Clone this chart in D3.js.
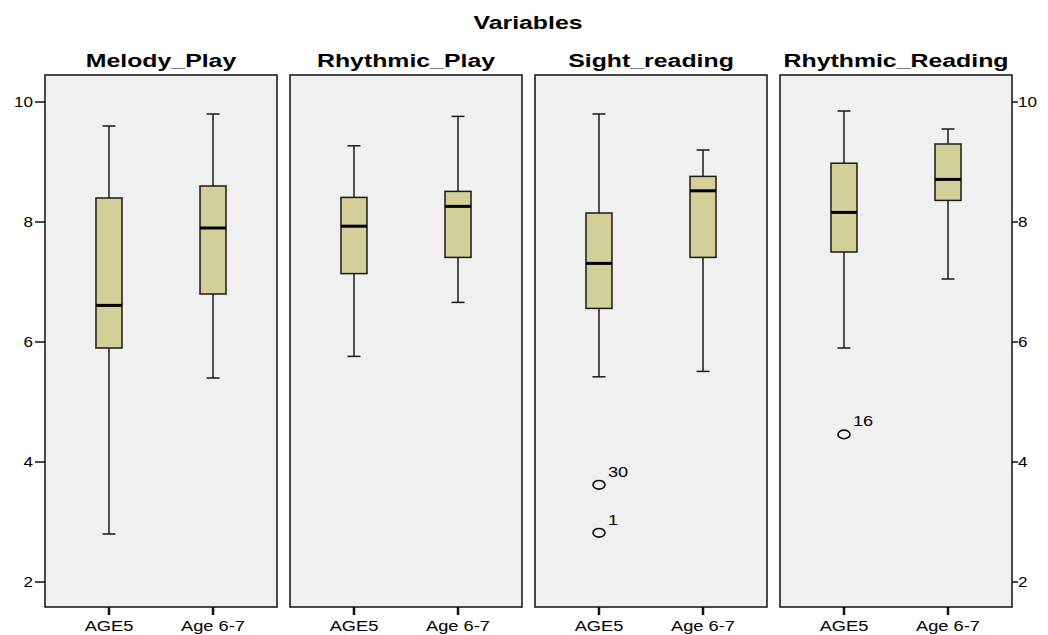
<!DOCTYPE html>
<html>
<head>
<meta charset="utf-8">
<script src="https://cdn.jsdelivr.net/npm/d3@7"></script>
<style>
  html, body { margin: 0; padding: 0; background: #fff; }
  svg { display: block; font-family: "Liberation Sans", Arial, sans-serif; }
</style>
</head>
<body>
<svg id="chart" width="1048" height="635"></svg>
<script>
// ---- data ----
const variables = ["Melody_Play", "Rhythmic_Play", "Sight_reading", "Rhythmic_Reading"];
const groups = ["AGE5", "Age 6-7"];
const whiskerLow  = [[2.80, 5.40], [5.76, 6.66], [5.42, 5.51], [5.90, 7.05]];
const q1          = [[5.90, 6.80], [7.14, 7.41], [6.56, 7.41], [7.50, 8.36]];
const medians     = [[6.61, 7.90], [7.93, 8.26], [7.31, 8.52], [8.16, 8.71]];
const q3          = [[8.40, 8.60], [8.41, 8.51], [8.15, 8.76], [8.98, 9.30]];
const whiskerHigh = [[9.60, 9.80], [9.27, 9.76], [9.80, 9.20], [9.85, 9.55]];
const outlierVariable = ["Sight_reading", "Sight_reading", "Rhythmic_Reading"];
const outlierGroup    = ["AGE5", "AGE5", "AGE5"];
const outlierValue    = [3.62, 2.82, 4.46];
const outlierLabel    = ["30", "1", "16"];
const yTicks = [2, 4, 6, 8, 10];
const chartTitle = "Variables";

// ---- layout ----
const svg = d3.select("#chart");
const panelTop = 75, panelBottom = 607;
const panelX = d3.scaleBand().domain(variables).range([45, 1012]).paddingInner(0.0531).paddingOuter(0);
const y = d3.scaleLinear().domain([2, 10]).range([582, 102]);
const xIn = d3.scalePoint().domain(groups).range([0, panelX.bandwidth()]).padding(0.615);
const boxW = 26, capW = 13;
const fill = "#d3cf99", stroke = "#1a1a1a";

function stretchedText(g, x, yy, txt, size, weight, anchor, sx) {
  return g.append("text")
    .attr("transform", `translate(${x},${yy}) scale(${sx},1)`)
    .attr("text-anchor", anchor)
    .attr("font-size", size)
    .attr("font-weight", weight)
    .attr("fill", "#000")
    .text(txt);
}

// overall title
stretchedText(svg, 528, 29, chartTitle, 18, "bold", "middle", 1.38);

variables.forEach((v, vi) => {
  const x0 = panelX(v), w = panelX.bandwidth();
  const g = svg.append("g").attr("transform", `translate(${x0},0)`);
  g.append("rect").attr("x", 0).attr("y", panelTop).attr("width", w).attr("height", panelBottom - panelTop)
    .attr("fill", "#f0f0f0").attr("stroke", "#111").attr("stroke-width", 1.5);
  stretchedText(g, w / 2, 67, v, 18, "bold", "middle", 1.38);

  // x axis ticks + labels
  groups.forEach(gr => {
    const cx = xIn(gr);
    g.append("line").attr("x1", cx).attr("x2", cx).attr("y1", panelBottom).attr("y2", panelBottom + 8)
      .attr("stroke", "#111").attr("stroke-width", 2.5);
    stretchedText(g, cx, 631, gr, 14.5, "normal", "middle", 1.26);
  });

  groups.forEach((gr, gi) => {
    const cx = xIn(gr);
    const lo = whiskerLow[vi][gi], hi = whiskerHigh[vi][gi];
    const a = q1[vi][gi], b = q3[vi][gi], m = medians[vi][gi];
    g.append("line").attr("x1", cx).attr("x2", cx).attr("y1", y(hi)).attr("y2", y(b))
      .attr("stroke", stroke).attr("stroke-width", 1.5);
    g.append("line").attr("x1", cx).attr("x2", cx).attr("y1", y(a)).attr("y2", y(lo))
      .attr("stroke", stroke).attr("stroke-width", 1.5);
    [hi, lo].forEach(val => {
      g.append("line").attr("x1", cx - capW / 2).attr("x2", cx + capW / 2)
        .attr("y1", y(val)).attr("y2", y(val)).attr("stroke", stroke).attr("stroke-width", 1.5);
    });
    g.append("rect").attr("x", cx - boxW / 2).attr("y", y(b)).attr("width", boxW)
      .attr("height", y(a) - y(b)).attr("fill", fill).attr("stroke", stroke).attr("stroke-width", 1.5);
    g.append("line").attr("x1", cx - boxW / 2).attr("x2", cx + boxW / 2)
      .attr("y1", y(m)).attr("y2", y(m)).attr("stroke", "#000").attr("stroke-width", 3);
  });

  // outliers
  outlierValue.forEach((val, oi) => {
    if (outlierVariable[oi] !== v) return;
    const cx = xIn(outlierGroup[oi]), cy = y(val);
    g.append("ellipse").attr("cx", cx).attr("cy", cy).attr("rx", 6).attr("ry", 4.3)
      .attr("fill", "none").attr("stroke", "#111").attr("stroke-width", 1.6);
    stretchedText(g, cx + 9, cy - 8, outlierLabel[oi], 14, "normal", "start", 1.3);
  });
});

// side axes
const leftX = panelX(variables[0]);
const rightX = panelX(variables[3]) + panelX.bandwidth();
yTicks.forEach(t => {
  svg.append("line").attr("x1", leftX - 10).attr("x2", leftX).attr("y1", y(t)).attr("y2", y(t))
    .attr("stroke", "#111").attr("stroke-width", 1.5);
  stretchedText(svg, leftX - 12, y(t) + 5, String(t), 14, "normal", "end", 1.22);
  svg.append("line").attr("x1", rightX).attr("x2", rightX + 6).attr("y1", y(t)).attr("y2", y(t))
    .attr("stroke", "#111").attr("stroke-width", 1.5);
  stretchedText(svg, rightX + 6, y(t) + 5, String(t), 14, "normal", "start", 1.22);
});
</script>
</body>
</html>
